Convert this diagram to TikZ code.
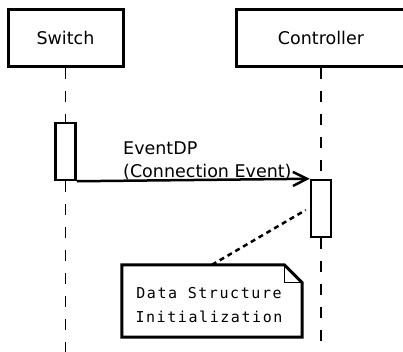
\documentclass[tikz,border=0pt]{standalone}
\usepackage{fontspec}
\setmainfont{DejaVu Sans}
\newfontfamily\notemono[LetterSpace=10.5]{DejaVu Sans Mono}
\usetikzlibrary{arrows.meta}
\begin{document}
\begin{tikzpicture}[x=1pt,y=-1pt,
  actor/.style={draw, line width=3pt, inner sep=0pt, font=\fontsize{17.5}{23}\selectfont},
  actbox/.style={draw, line width=2.5pt, fill=white, minimum width=20pt, minimum height=57pt, inner sep=0pt},
  life/.style={line width=1.5pt, dash pattern=on 11pt off 12pt},
  msg/.style={line width=2.5pt, -{Straight Barb[length=14pt,width=14pt,line width=2.5pt]}},
  lbl/.style={inner sep=0pt, font=\fontsize{17.5}{23}\selectfont},
  notetxt/.style={inner sep=0pt, align=center, font=\notemono\fontsize{15}{24}\selectfont},
  noteline/.style={line width=3pt, line join=miter},
  fold/.style={line width=1.3pt},
  noteconn/.style={line width=2.5pt, dash pattern=on 5pt off 4pt}]
\useasboundingbox (0,0) rectangle (403,351);
% actors
\node[actor, minimum width=115pt, minimum height=57pt] (sw) at (65.5,38) {Switch};
\node[actor, minimum width=170pt, minimum height=57pt] (ct) at (321,38) {Controller};
% activations
\node[actbox] (sact) at (65.5,151.5) {};
\node[actbox] (cact) at (321,208.5) {};
\coordinate (swend) at (65.5,356);
\coordinate (ctend) at (321,356);
% lifelines
\draw[life] (sw.south) -- (sact.north);
\draw[life] (sact.south) -- (swend);
\draw[life] (ct.south) -- (cact.north);
\draw[life] (cact.south) -- (ctend);
% message
\draw[msg] (sact.south east) -- (cact.north west);
\node[lbl, anchor=base west] (l1) at (123,154) {EventDP};
\node[lbl, anchor=base west] (l2) at (123,177) {(Connection Event)};
% note
\node[minimum width=180pt, minimum height=72pt, inner sep=0pt] (note) at (212,301) {};
\draw[noteline, fill=white] (note.south west) |- ([xshift=-18pt]note.north east)
  -- ([yshift=-18pt]note.north east) -- (note.south east) -- cycle;
\draw[fold] ([xshift=-18pt]note.north east) |- ([yshift=-18pt]note.north east);
\node[notetxt] (nt) at (209,305.5) {Data Structure\\Initialization};
\coordinate (connend) at ([xshift=-4pt,yshift=-1.5pt]cact.west);
\draw[noteconn] (note.north) -- (connend);
\end{tikzpicture}
\end{document}
